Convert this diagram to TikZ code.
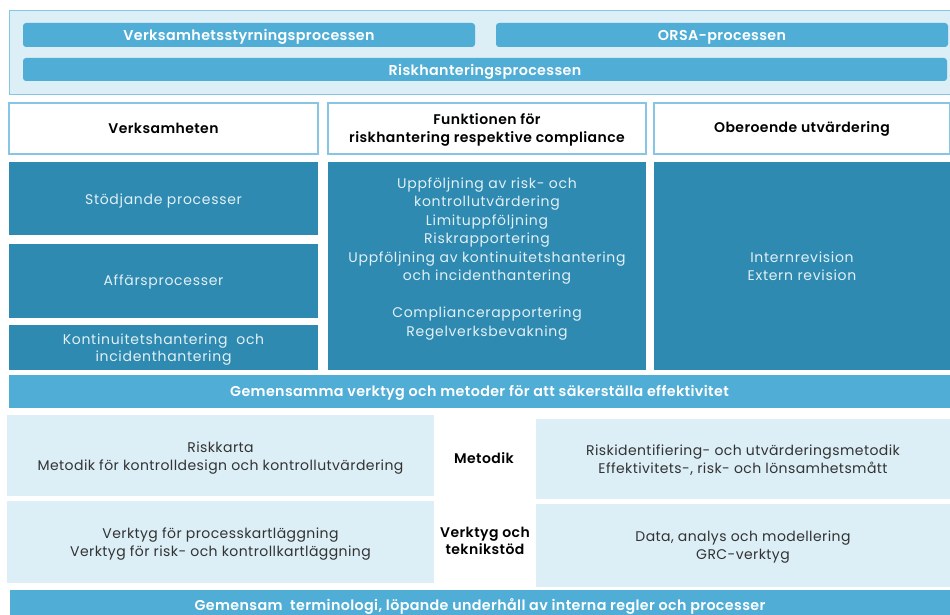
\documentclass[tikz,border=0pt]{standalone}
\usepackage{fontspec}
\setmainfont{Poppins}[BoldFont={Poppins SemiBold}]
\newfontfamily\darkfont{Poppins}[LetterSpace=5]
\newfontfamily\lightfont{Poppins}[LetterSpace=3]
\newfontfamily\headfont{Poppins SemiBold}[LetterSpace=3]
\newfontfamily\barfont{Poppins SemiBold}[LetterSpace=2.5]
\definecolor{midblue}{HTML}{50AED6}
\definecolor{darkblue}{HTML}{2E8AB0}
\definecolor{lightbg}{HTML}{DCEEF6}
\definecolor{edgeblue}{HTML}{86C5E4}
\definecolor{paletext}{HTML}{E2F0F7}
\definecolor{graytext}{HTML}{333333}
\tikzset{
  base/.style={inner sep=0pt,outer sep=0pt,anchor=north west},
  txt/.style={inner sep=0pt,outer sep=0pt,align=center},
  barbox/.style={base,fill=midblue,rounded corners=3pt},
  flatbar/.style={base,fill=midblue},
  bartext/.style={txt,text=white,font=\barfont\fontsize{14.3}{17}\selectfont},
  headbox/.style={base,fill=white,draw=edgeblue,line width=1.2pt},
  headtext/.style={txt,text=black,font=\headfont\fontsize{14}{18}\selectfont},
  darkbox/.style={base,fill=darkblue},
  darktext/.style={txt,text=paletext,font=\darkfont\fontsize{14}{18.5}\selectfont},
  lightbox/.style={base,fill=lightbg},
  lighttext/.style={txt,text=graytext,font=\lightfont\fontsize{14}{18}\selectfont},
  sidelabel/.style={txt,text=black,font=\headfont\fontsize{14}{17.5}\selectfont}
}
% #1 name, #2 box style, #3 x, #4 y, #5 width, #6 height, #7 text style, #8 text drop, #9 text
\newcommand\tbox[9]{%
  \node[#2,minimum width=#5pt,minimum height=#6pt] (#1) at (#3,#4) {};
  \node[#7,yshift=-#8pt] (#1t) at (#1.center) {#9};}
\begin{document}
\begin{tikzpicture}[x=1pt,y=-1pt]
\useasboundingbox (0,0) rectangle (950,615);
% top container
\node[base,fill=lightbg,draw=edgeblue,line width=1pt,minimum width=941pt,minimum height=84pt] (top) at (9,11) {};
\tbox{vs}{barbox}{23}{23}{452}{24}{bartext}{2}{Verksamhetsstyrningsprocessen}
\tbox{orsa}{barbox}{496}{23}{452}{24}{bartext}{2}{ORSA-processen}
\tbox{rh}{barbox}{23}{58}{924}{23}{bartext}{2}{Riskhanteringsprocessen}
% headers
\tbox{h1}{headbox}{9}{103}{309}{51}{headtext}{0}{Verksamheten}
\tbox{h2}{headbox}{328}{103}{318}{51}{headtext}{1}{Funktionen för\\riskhantering respektive compliance}
\tbox{h3}{headbox}{654}{103}{296}{51}{headtext}{0}{Oberoende utvärdering}
% dark boxes
\tbox{d1}{darkbox}{9}{162}{309}{73}{darktext}{2}{Stödjande processer}
\tbox{d2}{darkbox}{9}{244}{309}{74}{darktext}{1}{Affärsprocesser}
\tbox{d3}{darkbox}{9}{325}{309}{45}{darktext,font=\darkfont\fontsize{14}{17}\selectfont}{2}{Kontinuitetshantering\ \ och\\incidenthantering}
\node[darkbox,minimum width=318pt,minimum height=208pt] (d4) at (328,162) {};
\node[darktext] (d4t) at (487,259) {Uppföljning av risk- och\\kontrollutvärdering\\Limituppföljning\\Riskrapportering\\Uppföljning av kontinuitetshantering\\och incidenthantering\\[18.5pt]Compliancerapportering\\Regelverksbevakning};
\tbox{d5}{darkbox}{654}{162}{296}{208}{darktext}{0}{Internrevision\\Extern revision}
% common tools bar
\tbox{gem}{flatbar}{9}{375}{941}{33}{bartext}{1}{Gemensamma verktyg och metoder för att säkerställa effektivitet}
% light boxes
\tbox{l1}{lightbox}{7}{415}{427}{81}{lighttext}{3}{Riskkarta\\Metodik för kontrolldesign och kontrollutvärdering}
\tbox{l2}{lightbox}{7}{501}{427}{82}{lighttext}{2}{Verktyg för processkartläggning\\Verktyg för risk- och kontrollkartläggning}
\tbox{r1}{lightbox}{536}{419}{414}{80}{lighttext}{1}{Riskidentifiering- och utvärderingsmetodik\\Effektivitets-, risk- och lönsamhetsmått}
\tbox{r2}{lightbox}{536}{504}{414}{83}{lighttext}{2}{Data, analys och modellering\\GRC-verktyg}
\node[sidelabel] (met) at (484,458) {Metodik};
\node[sidelabel] (vt) at (485,541) {Verktyg och\\teknikstöd};
% bottom bar
\tbox{bot}{flatbar}{10}{590}{940}{27}{bartext}{3}{Gemensam\ \ terminologi, löpande underhåll av interna regler och processer}
\end{tikzpicture}
\end{document}
